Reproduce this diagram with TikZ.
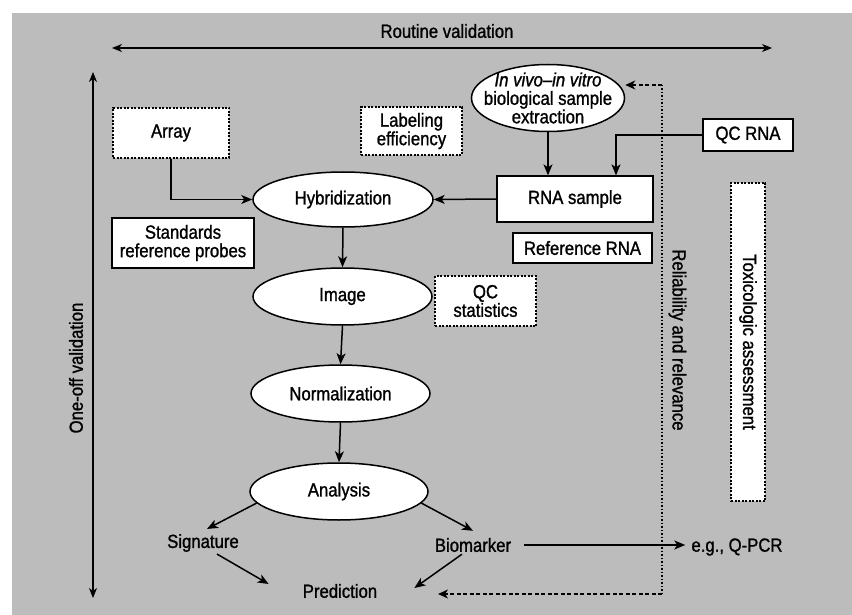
\documentclass[tikz,border=0pt]{standalone}
\usepackage{fontspec}
\setmainfont{Liberation Sans}[FakeStretch=0.88,FakeBold=1.2]
\usetikzlibrary{arrows.meta,shapes.geometric}
\definecolor{bgcol}{RGB}{188,188,188}
\begin{document}
\begin{tikzpicture}[x=1pt,y=-1pt,
  font=\fontsize{19}{18.5}\selectfont,
  conn/.style={line width=1.5pt,-{Stealth[length=11pt,width=9pt,inset=3pt]}},
  dconn/.style={line width=1.1pt,{Stealth[length=10pt,width=8pt,inset=3pt]}-{Stealth[length=10pt,width=8pt,inset=3pt]}},
  box/.style={draw,line width=1.3pt,fill=white,rectangle,inner sep=0pt,align=center},
  dbox/.style={box,dash pattern=on 2pt off 1.5pt},
  oval/.style={draw,line width=1.5pt,fill=white,ellipse,inner sep=0pt,align=center},
  lbl/.style={inner sep=2pt},
  reldot/.style={line width=1.3pt,dash pattern=on 1.5pt off 2pt},
  reldash/.style={line width=1.2pt,dash pattern=on 4pt off 2.5pt,-{Stealth[length=10pt,width=9pt,inset=3pt]}}
]
\useasboundingbox (0,0) rectangle (852,615);
\fill[bgcol] (12,13) rectangle (852,615);

% validation axes
\node (routine) at (447,31) {Routine validation};
\coordinate (rvL) at (112,48);
\coordinate (rvR) at (772,48);
\draw[dconn] (rvL) -- (rvR);
\coordinate (ovT) at (93,72);
\coordinate (ovB) at (93,598);
\draw[dconn] (ovT) -- (ovB);
\node[rotate=90] (oneoff) at (76,368) {One-off validation};

% nodes
\node[oval,minimum width=153pt,minimum height=67pt] (invivo) at (548,98) {};
\node[align=center] (invivoT) at (invivo) {\textit{In vivo–in vitro}\\biological sample\\extraction};
\node[box,minimum width=90pt,minimum height=32pt] (qcrna) at (748,135) {QC RNA};
\node[box,minimum width=156pt,minimum height=46pt] (rna) at (575,199) {RNA sample};
\node[box,minimum width=139pt,minimum height=30pt] (refrna) at (582.5,248) {Reference RNA};
\node[dbox,minimum width=116pt,minimum height=50pt] (array) at (171,133) {Array};
\node[dbox,minimum width=101pt,minimum height=48pt] (labeff) at (411.5,131) {Labeling\\efficiency};
\node[box,minimum width=142pt,minimum height=50pt] (std) at (183,243) {Standards\\reference probes};
\node[oval,minimum width=180pt,minimum height=55pt] (hyb) at (343,199.5) {Hybridization};
\node[oval,minimum width=179pt,minimum height=57pt] (img) at (342.5,296.5) {Image};
\node[dbox,minimum width=101pt,minimum height=50pt] (qcstat) at (485.5,301) {QC\\statistics};
\node[oval,minimum width=179pt,minimum height=57pt] (norm) at (340.5,393.5) {Normalization};
\node[oval,minimum width=178pt,minimum height=57pt] (ana) at (339,491.5) {Analysis};
\node[lbl] (sig) at (203,543) {Signature};
\node[lbl] (bio) at (473,545) {Biomarker};
\node[lbl] (pred) at (340,591) {Prediction};
\node[lbl] (qpcr) at (737,547) {e.g., Q-PCR};
\node[dbox,minimum width=34pt,minimum height=318pt] (toxbox) at (748,342) {};
\node[rotate=-90] (tox) at (toxbox) {Toxicologic assessment};
\node[rotate=-90] (rel) at (677.5,340) {Reliability and relevance};

% reliability loop
\coordinate (relT) at (662,85);
\coordinate (relB) at (662,594);
\coordinate (relEnd) at (438,594);
\draw[reldot] (relT) -- (relB);
\draw[reldash] (relB) -- (relEnd);
\draw[reldash] (relT) -- (relT -| invivo.east);

% connectors
\draw[conn] (invivo.south) -- (invivo.south |- rna.north);
\draw[conn] (qcrna.west) -| ([xshift=41pt]rna.north);
\draw[conn] (rna.west) -- (hyb.east);
\draw[conn] (array.south) |- (hyb.west);
\draw[conn] (hyb.south) -- (img.north);
\draw[conn] (img.south) -- (norm.north);
\draw[conn] (norm.south) -- (ana.north);
\draw[conn] (ana.188) -- ([xshift=4pt,yshift=3pt]sig.north);
\draw[conn] (ana.352) -- ([yshift=5pt]bio.north);
\draw[conn] ([xshift=14pt]sig.south) -- ([xshift=-32pt,yshift=7pt]pred.west);
\draw[conn] ([xshift=-11pt]bio.south) -- ([xshift=35pt,yshift=3pt]pred.east);
\draw[conn,shorten >=4pt] ([xshift=11pt]bio.east) -- (bio.east -| qpcr.west);
\end{tikzpicture}
\end{document}
